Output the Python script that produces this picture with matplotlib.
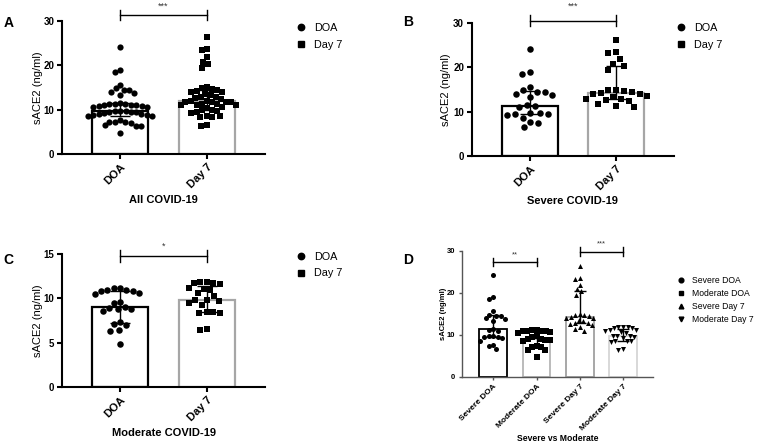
import numpy as np
import matplotlib
matplotlib.use('Agg')
import matplotlib.pyplot as plt
from matplotlib.lines import Line2D

plt.rcParams['font.family'] = ['Liberation Sans', 'DejaVu Sans']

# ---------------- data (ng/ml) ----------------
severe_doa = [24.1, 18.9, 18.4, 15.6, 14.8, 14.5, 14.4, 14.0, 13.8, 13.2, 11.4,
              11.2, 11.0, 9.6, 9.6, 9.4, 9.4, 9.2, 8.6, 7.6, 7.3, 6.5]
moderate_doa = [11.2, 11.2, 10.95, 10.95, 10.8, 10.8, 10.65, 10.5, 9.6, 9.5, 9.0,
                8.9, 8.8, 8.75, 8.6, 7.3, 7.1, 7.0, 6.4, 6.35, 4.8]
severe_day7 = [26.3, 23.6, 23.3, 21.9, 20.8, 20.3, 19.4, 15.0, 14.8, 14.6, 14.5,
               14.2, 14.0, 13.9, 13.6, 13.2, 12.9, 12.8, 12.6, 12.4, 11.8, 11.3, 11.0]
moderate_day7 = [11.9, 11.9, 11.8, 11.7, 11.6, 11.2, 11.1, 11.0, 10.6, 10.3, 9.8,
                 9.8, 9.7, 9.5, 9.2, 8.5, 8.5, 8.4, 8.3, 6.5, 6.4]
all_doa = severe_doa + moderate_doa
all_day7 = severe_day7 + moderate_day7

two_groups = ['DOA', 'Day 7']
four_groups = ['Severe DOA', 'Moderate DOA', 'Severe Day 7', 'Moderate Day 7']
panel_letters = ['A', 'B', 'C', 'D']
panel_titles = ['All COVID-19', 'Severe COVID-19', 'Moderate COVID-19', 'Severe vs Moderate']
sig_A, sig_B, sig_C, sig_D1, sig_D2 = '***', '***', '*', '**', '***'
y_label = 'sACE2 (ng/ml)'

W, H = 764, 446
fig = plt.figure(figsize=(W / 100, H / 100), dpi=100)


def add_ax(x0, x1, y_top, y_bot):
    return fig.add_axes([x0 / W, 1 - y_bot / H, (x1 - x0) / W, (y_bot - y_top) / H])


def swarm_offsets(values, ppu_x, ppu_y, dx0, dy0):
    """Deterministic beeswarm with an elliptical exclusion zone (pixels)."""
    vals = np.asarray(values, float)
    order = np.argsort(-vals)
    placed = []
    xs = np.zeros(len(vals))
    d = dx0
    sy = dx0 / dy0
    for i in order:
        y = vals[i] * ppu_y * sy
        cands = [0.0]
        for px, py in placed:
            dy = abs(py - y)
            if dy < d:
                dx = np.sqrt(d * d - dy * dy)
                cands += [px + dx, px - dx]
        cands.sort(key=lambda c: (round(abs(c), 3), c))
        for c in cands:
            if all((c - px) ** 2 + (y - py) ** 2 >= d * d - 1e-6 for px, py in placed):
                xs[i] = c
                placed.append((c, y))
                break
    return xs / ppu_x


def draw_panel(ax, datasets, labels, edgecolors, markers, ylim, yticks, xlim,
               px_box, msize, dxy, bar_lw, spine_lw, spine_color, tick_fs,
               ytick_fs, cap):
    x0, x1, yt, yb = px_box
    ppu_x = (x1 - x0) / (xlim[1] - xlim[0])
    ppu_y = (yb - yt) / (ylim[1] - ylim[0])
    for i, (vals, ec, mk) in enumerate(zip(datasets, edgecolors, markers)):
        q1, med, q3 = np.percentile(vals, [25, 50, 75], method='weibull')
        ax.bar(i, med, width=0.645, facecolor='white', edgecolor=ec,
               linewidth=bar_lw, zorder=1)
        offs = swarm_offsets(vals, ppu_x, ppu_y, *dxy)
        ax.scatter(i + offs, vals, marker=mk, s=msize, color='black',
                   linewidths=0, zorder=3, clip_on=False)
        ax.errorbar(i, med, yerr=[[med - q1], [q3 - med]], color='black',
                    lw=1.0, capsize=cap, capthick=1.0, zorder=4)
    ax.set_xlim(*xlim)
    ax.set_ylim(*ylim)
    ax.set_yticks(yticks)
    ax.set_xticks(range(len(labels)))
    ax.set_xticklabels(labels, rotation=45, ha='right', va='top',
                       rotation_mode='anchor', fontsize=tick_fs, fontweight='bold')
    for t in ax.get_yticklabels():
        t.set_fontsize(ytick_fs)
        t.set_fontweight('bold')
    for s in ['top', 'right']:
        ax.spines[s].set_visible(False)
    for s in ['left', 'bottom']:
        ax.spines[s].set_linewidth(spine_lw)
        ax.spines[s].set_color(spine_color)
    ax.tick_params(direction='out', length=3.5 if spine_lw > 1 else 2.5,
                   width=spine_lw, color=spine_color, pad=2)


def bracket(ax, xa, xb, y, h, text, ty, fs, lw=1.0):
    ax.plot([xa, xb], [y, y], color='black', lw=lw, clip_on=False)
    ax.plot([xa, xa], [y - h, y + h], color='black', lw=lw, clip_on=False)
    ax.plot([xb, xb], [y - h, y + h], color='black', lw=lw, clip_on=False)
    ax.text((xa + xb) / 2, ty, text, ha='center', va='center', fontsize=fs,
            color='#333333', clip_on=False)


two_colors = ['black', '#a6a6a6']
four_colors = ['black', '#b5b5b5', '#a0a0a0', '#d6d6d6']

# ---------------- Panel A ----------------
boxA = (62, 265, 20.7, 154)
axA = add_ax(*boxA)
draw_panel(axA, [all_doa, all_day7], two_groups, two_colors, ['o', 's'],
           (0, 30), [0, 10, 20, 30], (-0.67, 1.67), boxA, 20, (5.4, 6.5), 1.6, 1.5,
           'black', 8, 7, 7)
bracket(axA, 0, 1, 31.3, 1.1, sig_A, 33.2, 6.5)

# ---------------- Panel B ----------------
boxB = (471.7, 673.7, 23.3, 155.7)
axB = add_ax(*boxB)
draw_panel(axB, [severe_doa, severe_day7], two_groups, two_colors, ['o', 's'],
           (0, 30), [0, 10, 20, 30], (-0.68, 1.67), boxB, 22, (8.0, 8.5), 1.6, 1.5,
           'black', 8, 7, 7)
bracket(axB, 0, 1, 30.6, 1.2, sig_B, 33.8, 6.5)

# ---------------- Panel C ----------------
boxC = (62, 265, 254.3, 386.7)
axC = add_ax(*boxC)
draw_panel(axC, [moderate_doa, moderate_day7], two_groups, two_colors, ['o', 's'],
           (0, 15), [0, 5, 10, 15], (-0.67, 1.67), boxC, 22, (6.5, 8.0), 1.6, 1.5,
           'black', 8, 7, 7)
bracket(axC, 0, 1, 14.8, 0.68, sig_C, 15.9, 6.5)

# ---------------- Panel D ----------------
boxD = (461.7, 653.3, 250.7, 376.7)
axD = add_ax(*boxD)
draw_panel(axD, [severe_doa, moderate_doa, severe_day7, moderate_day7], four_groups,
           four_colors, ['o', 's', '^', 'v'], (0, 30), [0, 10, 20, 30],
           (-0.73, 3.7), boxD, 13, (4.6, 6.0), 1.3, 1.0, '#555555', 6, 5.5, 4.5)
bracket(axD, 0, 1, 27.3, 1.0, sig_D1, 29.1, 5.5)
bracket(axD, 2, 3, 29.8, 1.0, sig_D2, 31.6, 5.5)

# ---------------- labels ----------------
for ax, box, title, fs, ty in [
        (axA, boxA, panel_titles[0], 8, 200),
        (axB, boxB, panel_titles[1], 8, 201),
        (axC, boxC, panel_titles[2], 8, 433),
        (axD, boxD, panel_titles[3], 6.2, 438.3)]:
    cx = (box[0] + box[1]) / 2
    fig.text(cx / W, 1 - ty / H, title, ha='center', va='center', fontsize=fs,
             fontweight='bold')

fig.text(38 / W, 1 - ((20.7 + 154) / 2) / H, y_label, rotation=90, ha='center',
         va='center', fontsize=8)
fig.text(446 / W, 1 - ((23.3 + 155.7) / 2) / H, y_label, rotation=90, ha='center',
         va='center', fontsize=8)
fig.text(38 / W, 1 - ((254.3 + 386.7) / 2) / H, y_label, rotation=90, ha='center',
         va='center', fontsize=8)
fig.text(443.5 / W, 1 - ((250.7 + 376.7) / 2) / H, y_label, rotation=90, ha='center',
         va='center', fontsize=5.5, fontweight='bold')

for letter, (lx, ly) in zip(panel_letters, [(9, 23), (408, 22), (8, 260), (408, 260)]):
    fig.text(lx / W, 1 - ly / H, letter, ha='center', va='center', fontsize=10,
             fontweight='bold')

# ---------------- legends ----------------
def make_legend(ax, labels, markers, x, y, fs, ms, spacing):
    handles = [Line2D([], [], marker=m, ls='', color='black', markersize=ms)
               for m in markers]
    ax.legend(handles, labels, loc='upper left', bbox_to_anchor=(x / W, 1 - y / H),
              bbox_transform=fig.transFigure, frameon=False, fontsize=fs,
              handlelength=1.0, handletextpad=0.7, labelspacing=spacing,
              borderpad=0, borderaxespad=0)

make_legend(axA, two_groups, ['o', 's'], 296, 23, 7.8, 4.6, 0.6)
make_legend(axB, two_groups, ['o', 's'], 676, 23, 7.8, 4.6, 0.6)
make_legend(axC, two_groups, ['o', 's'], 296, 252, 7.8, 4.6, 0.6)
make_legend(axD, four_groups, ['o', 's', '^', 'v'], 677, 276, 6.2, 3.4, 0.45)

fig.savefig('out.png', dpi=100)
